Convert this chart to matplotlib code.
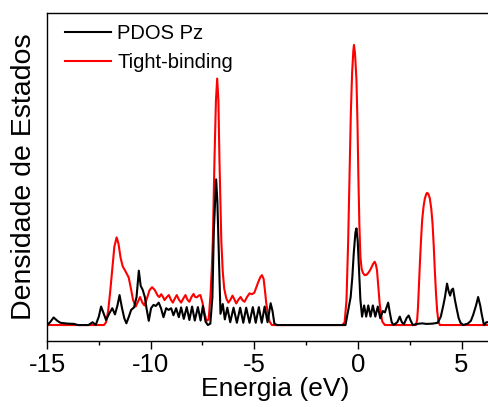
import matplotlib
matplotlib.use("Agg")
import matplotlib.pyplot as plt
from matplotlib.ticker import MultipleLocator

plt.rcParams['font.family'] = ['Liberation Sans', 'DejaVu Sans']
plt.rcParams['axes.unicode_minus'] = False

# PDOS (pz projection) from the DFT run
pdos_E = [-15.0, -14.85, -14.68, -14.5, -14.35, -14.0, -13.7, -13.5, -13.0, -12.8,
          -12.65, -12.5, -12.39, -12.27, -12.15, -11.99, -11.85, -11.72, -11.6, -11.5,
          -11.38, -11.27, -11.17, -11.05, -10.94, -10.8, -10.68, -10.57, -10.48, -10.38,
          -10.28, -10.2, -10.09, -9.98, -9.86, -9.75, -9.61, -9.5, -9.38, -9.25,
          -9.13, -9.01, -8.9, -8.77, -8.64, -8.53, -8.4, -8.26, -8.13, -8.0,
          -7.87, -7.72, -7.59, -7.48, -7.35, -7.24, -7.12, -7.02, -6.95, -6.84,
          -6.78, -6.72, -6.63, -6.52, -6.42, -6.3, -6.16, -6.0, -5.84, -5.68,
          -5.53, -5.39, -5.23, -5.07, -4.93, -4.78, -4.64, -4.5, -4.36, -4.21,
          -4.12, -4.03, -3.9, -0.6, -0.5, -0.43, -0.35, -0.27, -0.2, -0.12,
          -0.07, -0.01, 0.05, 0.12, 0.2, 0.3, 0.4, 0.5, 0.61, 0.72,
          0.84, 0.96, 1.08, 1.2, 1.3, 1.46, 1.55, 1.63, 1.72, 1.9,
          2.02, 2.12, 2.22, 2.35, 2.45, 2.55, 2.65, 2.85, 3.1, 3.3,
          3.6, 3.85, 4.0, 4.12, 4.2, 4.3, 4.38, 4.45, 4.52, 4.59,
          4.68, 4.76, 4.86, 4.95, 5.08, 5.3, 5.45, 5.56, 5.7, 5.8,
          5.9, 5.97, 6.08, 6.2, 6.4, 6.6, 7.0]
pdos_val = [0.0, 0.01, 0.027, 0.015, 0.008, 0.005, 0.004, 0.0, 0.0, 0.01,
            0.0, 0.03, 0.066, 0.042, 0.018, 0.042, 0.06, 0.038, 0.07, 0.107,
            0.06, 0.024, 0.006, 0.03, 0.054, 0.063, 0.1, 0.194, 0.14, 0.125,
            0.1, 0.06, 0.015, 0.06, 0.072, 0.068, 0.08, 0.06, 0.028, 0.06,
            0.054, 0.06, 0.035, 0.06, 0.028, 0.063, 0.022, 0.064, 0.018, 0.066,
            0.016, 0.064, 0.016, 0.068, 0.012, 0.0, 0.005, 0.1, 0.34, 0.52,
            0.44, 0.28, 0.04, 0.075, 0.02, 0.062, 0.01, 0.062, 0.008, 0.062,
            0.008, 0.062, 0.008, 0.064, 0.008, 0.064, 0.008, 0.066, 0.01, 0.078,
            0.05, 0.005, 0.0, 0.0, 0.04, 0.07, 0.1, 0.17, 0.257, 0.33,
            0.345, 0.3, 0.2, 0.09, 0.03, 0.07, 0.03, 0.07, 0.03, 0.07,
            0.03, 0.066, 0.024, 0.05, 0.045, 0.08, 0.04, 0.01, 0.0, 0.01,
            0.03, 0.01, 0.003, 0.025, 0.034, 0.015, 0.0, 0.004, 0.006, 0.004,
            0.005, 0.008, 0.03, 0.07, 0.1, 0.148, 0.12, 0.105, 0.125, 0.13,
            0.09, 0.06, 0.025, 0.008, 0.0, 0.005, 0.015, 0.036, 0.07, 0.1,
            0.07, 0.04, 0.0, 0.01, 0.01, 0.005, 0.0]

# tight-binding DOS
tb_E = [-15.0, -12.25, -12.15, -12.05, -11.95, -11.85, -11.75, -11.64, -11.55, -11.45,
        -11.35, -11.2, -11.06, -10.95, -10.85, -10.72, -10.6, -10.51, -10.4, -10.3,
        -10.2, -10.05, -9.93, -9.8, -9.66, -9.58, -9.49, -9.4, -9.33, -9.22,
        -9.12, -9.02, -8.93, -8.83, -8.74, -8.63, -8.53, -8.42, -8.32, -8.22,
        -8.13, -8.03, -7.93, -7.85, -7.77, -7.68, -7.6, -7.5, -7.4, -7.3,
        -7.2, -7.11, -7.05, -7.0, -6.92, -6.85, -6.79, -6.73, -6.68, -6.59,
        -6.52, -6.45, -6.35, -6.25, -6.15, -6.05, -5.95, -5.87, -5.77, -5.66,
        -5.56, -5.47, -5.35, -5.23, -5.12, -5.0, -4.9, -4.8, -4.7, -4.63,
        -4.55, -4.48, -4.42, -4.34, -4.26, -4.15, -0.75, -0.64, -0.55, -0.47,
        -0.4, -0.34, -0.28, -0.22, -0.19, -0.14, -0.07, -0.02, 0.02, 0.07,
        0.12, 0.18, 0.25, 0.33, 0.41, 0.5, 0.58, 0.65, 0.73, 0.81,
        0.87, 0.92, 0.98, 1.05, 1.12, 1.18, 1.3, 2.8, 2.86, 2.9,
        2.99, 3.05, 3.1, 3.17, 3.23, 3.3, 3.34, 3.4, 3.47, 3.54,
        3.6, 3.66, 3.71, 3.77, 3.82, 3.88, 3.95, 7.0]
tb_val = [0.0, 0.0, 0.01, 0.05, 0.12, 0.2, 0.28, 0.313, 0.29, 0.24,
          0.21, 0.19, 0.17, 0.13, 0.09, 0.066, 0.085, 0.1, 0.08, 0.07,
          0.09, 0.125, 0.135, 0.125, 0.105, 0.1, 0.11, 0.1, 0.089, 0.1,
          0.107, 0.09, 0.08, 0.095, 0.107, 0.09, 0.08, 0.095, 0.107, 0.09,
          0.083, 0.1, 0.111, 0.1, 0.099, 0.105, 0.107, 0.08, 0.042, 0.015,
          0.02, 0.11, 0.2, 0.3, 0.59, 0.8, 0.88, 0.8, 0.59, 0.3,
          0.19, 0.13, 0.095, 0.08, 0.09, 0.105, 0.09, 0.077, 0.09, 0.1,
          0.088, 0.083, 0.1, 0.113, 0.11, 0.115, 0.135, 0.155, 0.172, 0.178,
          0.165, 0.12, 0.077, 0.04, 0.012, 0.0, 0.0, 0.01, 0.09, 0.3,
          0.54, 0.76, 0.9, 0.98, 1.0, 0.97, 0.875, 0.72, 0.54, 0.36,
          0.244, 0.2, 0.185, 0.178, 0.179, 0.186, 0.195, 0.205, 0.218, 0.226,
          0.215, 0.196, 0.14, 0.077, 0.035, 0.012, 0.0, 0.0, 0.02, 0.065,
          0.22, 0.31, 0.375, 0.425, 0.452, 0.468, 0.472, 0.468, 0.452, 0.415,
          0.363, 0.28, 0.196, 0.11, 0.054, 0.015, 0.0, 0.0]

fig = plt.figure(figsize=(4.88, 4.07), dpi=100)
# axes run a little past the right edge of the canvas
ax = fig.add_axes([47 / 488, 66 / 407, 456 / 488, 328 / 407])

l_tb, = ax.plot(tb_E, tb_val, color='#ff0000', lw=1.5, label='Tight-binding')
l_pd, = ax.plot(pdos_E, pdos_val, color='black', lw=1.5, label='PDOS Pz')

ax.set_xlim(-15, 7)
ax.set_ylim(-0.057, 1.114)
ax.set_yticks([])
ax.xaxis.set_major_locator(MultipleLocator(5))
ax.xaxis.set_minor_locator(MultipleLocator(2.5))
ax.tick_params(axis='x', which='major', direction='out', length=5.5, width=1,
               labelsize=18.5, pad=3)
ax.tick_params(axis='x', which='minor', direction='out', length=3, width=1)
for s in ['left', 'bottom', 'top', 'right']:
    ax.spines[s].set_linewidth(1.0)

ax.set_xlabel('Energia (eV)', fontsize=19, labelpad=0)
ax.set_ylabel('Densidade de Estados', fontsize=20.5, labelpad=7)

ax.legend(handles=[l_pd, l_tb], loc='upper left', bbox_to_anchor=(18 / 456, 0.966),
          frameon=False, fontsize=14.5, handlelength=2.3, handletextpad=0.3,
          labelspacing=0.5, borderaxespad=0, borderpad=0)

fig.savefig('out.png', dpi=100)
